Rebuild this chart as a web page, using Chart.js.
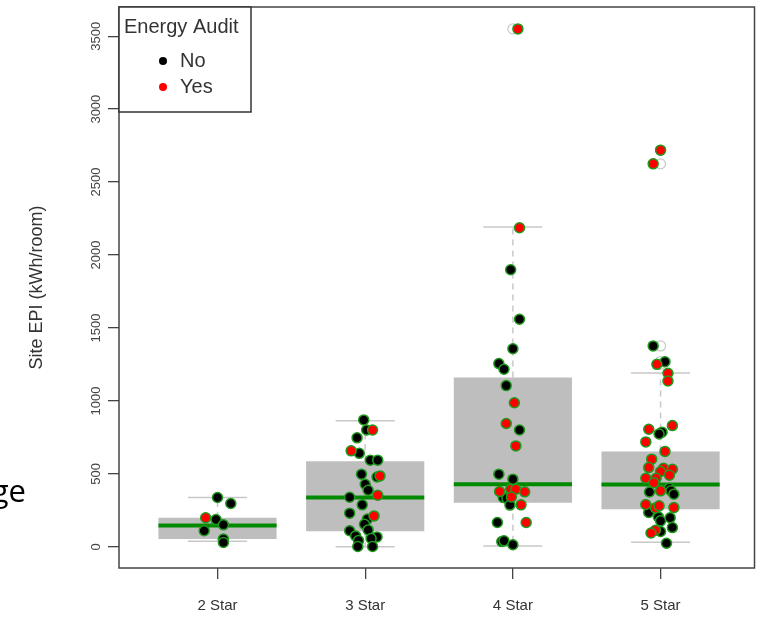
<!DOCTYPE html>
<html>
<head>
<meta charset="utf-8">
<script src="https://cdn.jsdelivr.net/npm/chart.js@4.4.1/dist/chart.umd.min.js"></script>
<style>
  html, body { margin: 0; padding: 0; background: #fff; }
  #wrap { width: 761px; height: 619px; position: relative; }
</style>
</head>
<body>
<div id="wrap"><canvas id="chart"></canvas></div>
<script>
// ── Données ────────────────────────────────────────────────────────
const categories = ["2 Star", "3 Star", "4 Star", "5 Star"];
const yTicks = [0, 500, 1000, 1500, 2000, 2500, 3000, 3500];

// boîtes (quartiles, médiane, moustaches)
const boxQ1 = [53, 107, 303, 258];
const boxQ3 = [200, 587, 1160, 653];
const medians = [146, 338, 429, 427];
const whiskerLow = [39, 0, 5, 32];
const whiskerHigh = [338, 865, 2192, 1192];
const outliers = [[], [], [3550], [2719, 2625, 1377, 1269, 1251]];

// points jitterés : [décalage horizontal, valeur]
const star2No = [[0, 338], [0.09, 297], [-0.01, 187], [0.04, 151], [-0.09, 110], [0.04, 53], [0.04, 30]];
const star2Yes = [[-0.08, 199]];
const star3No = [[-0.01, 870], [0.01, 801], [-0.055, 747], [-0.04, 641], [0.035, 594], [0.085, 594],
  [-0.025, 498], [0.08, 479], [0, 429], [0.02, 388], [-0.105, 340], [-0.02, 288], [-0.105, 231],
  [0.015, 190], [-0.005, 155], [0.02, 116], [-0.105, 110], [-0.065, 75], [0.08, 68], [0.04, 57],
  [-0.045, 43], [0.05, 2], [-0.05, 2]];
const star3Yes = [[0.05, 801], [-0.095, 658], [0.10, 486], [0.085, 354], [0.06, 212]];
const star4No = [[-0.015, 1899], [0.045, 1560], [0, 1358], [-0.095, 1256], [-0.06, 1217], [-0.045, 1105],
  [0.045, 801], [-0.095, 498], [0, 464], [-0.065, 338], [-0.04, 331], [-0.02, 286], [-0.105, 167],
  [-0.075, 36], [-0.06, 41], [0, 14]];
const star4Yes = [[0.034, 3550], [0.045, 2187], [0.01, 988], [-0.045, 845], [0.02, 692], [-0.09, 379],
  [-0.015, 395], [0.02, 395], [0.08, 377], [-0.01, 342], [0.055, 288], [0.09, 167]];
const star5No = [[-0.05, 1377], [0.03, 1269], [0.01, 786], [-0.01, 774], [-0.075, 376], [0.06, 402],
  [0.07, 384], [0.09, 361], [-0.08, 235], [-0.015, 205], [0.065, 199], [0, 178], [0.08, 132],
  [0, 105], [0.04, 25]];
const star5Yes = [[0, 2719], [-0.05, 2625], [-0.025, 1251], [0.05, 1190], [0.05, 1137], [0.08, 831],
  [-0.08, 806], [-0.1, 719], [0.03, 654], [-0.06, 601], [-0.08, 543], [0.02, 539], [0.08, 532],
  [0, 516], [0.06, 491], [-0.1, 470], [-0.03, 470], [-0.045, 440], [0, 384], [-0.1, 290],
  [-0.035, 267], [-0.01, 281], [0.09, 269], [-0.035, 114], [-0.065, 95]];

const noGroups = [star2No, star3No, star4No, star5No];
const yesGroups = [star2Yes, star3Yes, star4Yes, star5Yes];

const BOX_HALF = 0.4;
const CAP_HALF = 0.2;
const GREEN_EDGE = "#1f9a1f";

// ── Construction des séries ────────────────────────────────────────
const jitter = (groups) => groups.flatMap((g, i) => g.map(([dx, v]) => ({ x: i + 1 + dx, y: v })));

// segments séparés par un point nul (coupure de ligne)
function segments(pairs) {
  const out = [];
  pairs.forEach(([a, b]) => { out.push(a, b, { x: a.x, y: null }); });
  return out;
}

const boxData = categories.map((_, i) => ({ x: i + 1, y: [boxQ1[i], boxQ3[i]] }));
const medianData = segments(categories.map((_, i) => [
  { x: i + 1 - BOX_HALF, y: medians[i] }, { x: i + 1 + BOX_HALF, y: medians[i] }]));
const whiskerData = segments(categories.flatMap((_, i) => [
  [{ x: i + 1, y: boxQ3[i] }, { x: i + 1, y: whiskerHigh[i] }],
  [{ x: i + 1, y: boxQ1[i] }, { x: i + 1, y: whiskerLow[i] }]]));
const capData = segments(categories.flatMap((_, i) => [
  [{ x: i + 1 - CAP_HALF, y: whiskerHigh[i] }, { x: i + 1 + CAP_HALF, y: whiskerHigh[i] }],
  [{ x: i + 1 - CAP_HALF, y: whiskerLow[i] }, { x: i + 1 + CAP_HALF, y: whiskerLow[i] }]]));
const outlierData = outliers.flatMap((vals, i) => vals.map((v) => ({ x: i + 1, y: v })));

// ── Plugins de dessin (cadre, légende, fragment de texte) ─────────
const frame = {
  id: "frame",
  afterDraw(chart) {
    const { ctx, chartArea: a } = chart;
    ctx.save();
    ctx.strokeStyle = "#444";
    ctx.lineWidth = 1.5;
    ctx.strokeRect(a.left, a.top, a.right - a.left, a.bottom - a.top);
    ctx.restore();
  },
};

const legendBox = {
  id: "legendBox",
  afterDraw(chart) {
    const { ctx, chartArea: a } = chart;
    const x = a.left, y = a.top, w = 132, h = 105;
    ctx.save();
    ctx.fillStyle = "#fff";
    ctx.fillRect(x, y, w, h);
    ctx.strokeStyle = "#333";
    ctx.lineWidth = 1.5;
    ctx.strokeRect(x, y, w, h);
    ctx.fillStyle = "#333";
    ctx.font = '20px "Liberation Sans", Arial, sans-serif';
    ctx.textBaseline = "middle";
    ctx.textAlign = "left";
    ctx.fillText("Energy Audit", x + 5, y + 20);
    [["No", "#000"], ["Yes", "#ff0000"]].forEach(([label, color], k) => {
      const cy = y + 54 + k * 26;
      ctx.beginPath();
      ctx.arc(x + 44, cy, 4, 0, Math.PI * 2);
      ctx.fillStyle = color;
      ctx.fill();
      ctx.fillStyle = "#333";
      ctx.fillText(label, x + 61, cy);
    });
    ctx.restore();
  },
};

const slideFragment = {
  id: "slideFragment",
  afterDraw(chart) {
    const { ctx } = chart;
    ctx.save();
    ctx.fillStyle = "#000";
    ctx.font = '31px "Open Sans", sans-serif';
    ctx.textAlign = "right";
    ctx.textBaseline = "alphabetic";
    ctx.fillText("ge", 26, 502);
    ctx.restore();
  },
};

// ── Graphique ──────────────────────────────────────────────────────
new Chart(document.getElementById("chart"), {
  type: "bar",
  data: {
    datasets: [
      {
        type: "scatter", label: "Yes", data: jitter(yesGroups), order: 0,
        pointRadius: 5, pointHoverRadius: 5, borderWidth: 1.5,
        backgroundColor: "#ff0000", borderColor: GREEN_EDGE,
      },
      {
        type: "scatter", label: "No", data: jitter(noGroups), order: 1,
        pointRadius: 5, pointHoverRadius: 5, borderWidth: 1.5,
        backgroundColor: "#000", borderColor: GREEN_EDGE,
      },
      {
        type: "scatter", label: "outliers", data: outlierData, order: 2,
        pointRadius: 5, borderWidth: 1.2,
        backgroundColor: "rgba(0,0,0,0)", borderColor: "#c8c8c8",
      },
      {
        type: "scatter", label: "median", data: medianData, order: 3, showLine: true,
        spanGaps: false, pointRadius: 0, borderWidth: 4, borderColor: "#008a00",
      },
      {
        type: "scatter", label: "caps", data: capData, order: 4, showLine: true,
        spanGaps: false, pointRadius: 0, borderWidth: 1.5, borderColor: "#c8c8c8",
      },
      {
        type: "scatter", label: "whiskers", data: whiskerData, order: 5, showLine: true,
        spanGaps: false, pointRadius: 0, borderWidth: 1.5, borderColor: "#c8c8c8", borderDash: [6, 5],
      },
      {
        type: "bar", label: "box", data: boxData, order: 6,
        backgroundColor: "#bebebe", borderWidth: 0,
        barPercentage: 0.8, categoryPercentage: 1,
      },
    ],
  },
  options: {
    responsive: true,
    maintainAspectRatio: false,
    animation: false,
    layout: { padding: { left: 0, right: 3, top: 7, bottom: 0 } },
    plugins: { legend: { display: false }, tooltip: { enabled: false } },
    scales: {
      x: {
        type: "linear",
        min: 0.333,
        max: 4.636,
        offset: false,
        afterBuildTicks: (scale) => { scale.ticks = categories.map((_, i) => ({ value: i + 1 })); },
        afterFit: (scale) => { scale.height = 51; },
        border: { display: false },
        grid: { offset: false, drawOnChartArea: false, drawTicks: true, tickLength: 11, color: "#444", lineWidth: 1.3 },
        ticks: {
          callback: (v) => categories[v - 1],
          color: "#333",
          font: { family: '"Liberation Sans", Arial, sans-serif', size: 15 },
          padding: 18,
          maxRotation: 0,
        },
      },
      y: {
        min: -145,
        max: 3700,
        afterBuildTicks: (scale) => { scale.ticks = yTicks.map((v) => ({ value: v })); },
        afterFit: (scale) => { scale.width = 119; },
        border: { display: false },
        grid: { drawOnChartArea: false, drawTicks: true, tickLength: 11, color: "#444", lineWidth: 1.3 },
        ticks: {
          callback: (v) => String(v),
          color: "#444",
          font: { family: '"Liberation Sans", Arial, sans-serif', size: 13 },
          minRotation: 90,
          maxRotation: 90,
          crossAlign: "center",
          padding: -3,
        },
        title: {
          display: true,
          text: "Site EPI (kWh/room)",
          color: "#333",
          font: { family: '"Liberation Sans", Arial, sans-serif', size: 18 },
          padding: { top: 26 },
        },
      },
    },
  },
  plugins: [frame, legendBox, slideFragment],
});
</script>
</body>
</html>
